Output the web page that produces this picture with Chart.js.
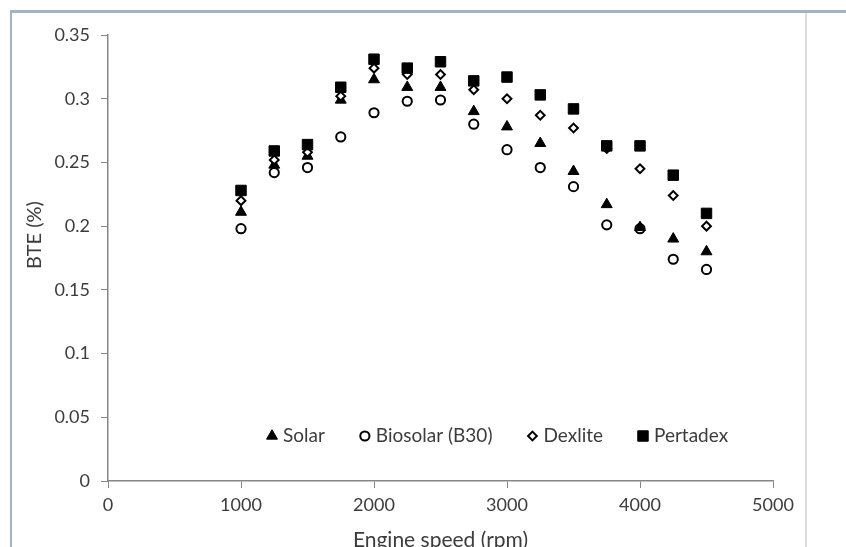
<!DOCTYPE html>
<html lang="en">
<head>
<meta charset="UTF-8">
<title>BTE vs engine speed</title>
<script src="https://cdn.jsdelivr.net/npm/chart.js"></script>
<style>
  body { margin: 0; background: #fff; }
  #wrap { position: relative; width: 846px; height: 547px; overflow: hidden; }
  /* outer frame of the figure */
  .frame { position: absolute; left: 10px; top: 10px; right: -10px; bottom: -10px;
           border-top: 3px solid #a3b4c4; border-left: 2px solid #a3b4c4; }
  .rule { position: absolute; left: 805px; top: 13px; bottom: 0; width: 2px; background: #dcdcdc; }
  canvas { position: absolute; left: 0; top: 0; }
</style>
</head>
<body>
<div id="wrap">
  <div class="frame"></div>
  <div class="rule"></div>
  <canvas id="bte" width="846" height="547"></canvas>
</div>
<script>
// engine speed (rpm) and brake thermal efficiency per fuel
const speeds   = [1000, 1250, 1500, 1750, 2000, 2250, 2500, 2750, 3000, 3250, 3500, 3750, 4000, 4250, 4500];
const solar    = [0.211, 0.248, 0.255, 0.299, 0.315, 0.309, 0.309, 0.290, 0.278, 0.265, 0.243, 0.217, 0.199, 0.190, 0.180];
const biosolar = [0.198, 0.242, 0.246, 0.270, 0.289, 0.298, 0.299, 0.280, 0.260, 0.246, 0.231, 0.201, 0.198, 0.174, 0.166];
const dexlite  = [0.220, 0.252, 0.258, 0.302, 0.324, 0.319, 0.319, 0.307, 0.300, 0.287, 0.277, 0.261, 0.245, 0.224, 0.200];
const pertadex = [0.228, 0.259, 0.264, 0.309, 0.331, 0.324, 0.329, 0.314, 0.317, 0.303, 0.292, 0.263, 0.263, 0.240, 0.210];

const fuelNames = ['Solar', 'Biosolar (B30)', 'Dexlite', 'Pertadex'];
const yTicks = [0, 0.05, 0.1, 0.15, 0.2, 0.25, 0.3, 0.35];

const FONT = 'Lato, "Open Sans", sans-serif';
const AXIS = '#868686';
const TEXT = '#3c3c3c';

function pts(values) {
  return speeds.map((s, i) => ({ x: s, y: values[i] }));
}

const datasets = [
  { label: fuelNames[0], data: pts(solar), order: 4,
    pointStyle: 'triangle', pointRadius: 6.3, pointBorderWidth: 1,
    backgroundColor: '#000', borderColor: '#000' },
  { label: fuelNames[1], data: pts(biosolar), order: 3,
    pointStyle: 'circle', pointRadius: 4.6, pointBorderWidth: 2,
    backgroundColor: 'rgba(0,0,0,0)', borderColor: '#000' },
  { label: fuelNames[2], data: pts(dexlite), order: 2,
    pointStyle: 'rectRot', pointRadius: 4.4, pointBorderWidth: 2,
    backgroundColor: '#fff', borderColor: '#000' },
  { label: fuelNames[3], data: pts(pertadex), order: 1,
    pointStyle: 'rect', pointRadius: 7.4, pointBorderWidth: 1,
    backgroundColor: '#000', borderColor: '#000' }
];

// y title and the in-plot legend row
const extras = {
  id: 'extras',
  afterDatasetsDraw(chart) {
    const { ctx, chartArea } = chart;
    ctx.save();
    ctx.fillStyle = TEXT;
    ctx.font = '20px ' + FONT;
    ctx.textAlign = 'center';
    ctx.textBaseline = 'middle';
    ctx.translate(35, 235);
    ctx.rotate(-Math.PI / 2);
    ctx.fillText('BTE (%)', 0, 0);
    ctx.restore();

    ctx.save();
    ctx.font = '19px ' + FONT;
    ctx.textBaseline = 'middle';
    ctx.textAlign = 'left';
    let x = chartArea.left + 164;
    const y = chartArea.bottom - 45;
    chart.data.datasets.forEach(ds => {
      ctx.fillStyle = ds.backgroundColor;
      ctx.strokeStyle = ds.borderColor;
      ctx.lineWidth = ds.pointBorderWidth;
      Chart.helpers.drawPoint(ctx, {
        pointStyle: ds.pointStyle, radius: ds.pointRadius,
        borderWidth: ds.pointBorderWidth, rotation: 0
      }, x, y);
      ctx.fillStyle = TEXT;
      ctx.fillText(ds.label, x + 11, y);
      x += 11 + ctx.measureText(ds.label).width + 40;
    });
    ctx.restore();
  }
};

new Chart(document.getElementById('bte'), {
  type: 'scatter',
  data: { datasets },
  options: {
    responsive: false,
    animation: false,
    layout: { padding: { left: 0, right: 73, top: 35, bottom: 0 } },
    plugins: { legend: { display: false }, tooltip: { enabled: false } },
    scales: {
      x: {
        type: 'linear', min: 0, max: 5000,
        afterFit(scale) { scale.height = 66; },
        ticks: { stepSize: 1000, color: TEXT, font: { family: FONT, size: 18 }, padding: 6,
                 maxRotation: 0, callback: v => String(v) },
        grid: { drawOnChartArea: false, drawTicks: true, tickLength: 7, color: AXIS },
        border: { color: AXIS, width: 1.5 },
        title: { display: true, text: 'Engine speed (rpm)', color: TEXT,
                 font: { family: FONT, size: 21 }, padding: { top: 0, bottom: -6 } }
      },
      y: {
        min: 0, max: 0.35,
        afterFit(scale) { scale.width = 108; },
        afterBuildTicks(scale) { scale.ticks = yTicks.map(v => ({ value: v })); },
        ticks: { color: TEXT, font: { family: FONT, size: 18 }, padding: 11,
                 callback: v => String(+v.toFixed(2)) },
        grid: { drawOnChartArea: false, drawTicks: true, tickLength: 7, color: AXIS },
        border: { color: AXIS, width: 1.5 }
      }
    }
  },
  plugins: [extras]
});
</script>
</body>
</html>
